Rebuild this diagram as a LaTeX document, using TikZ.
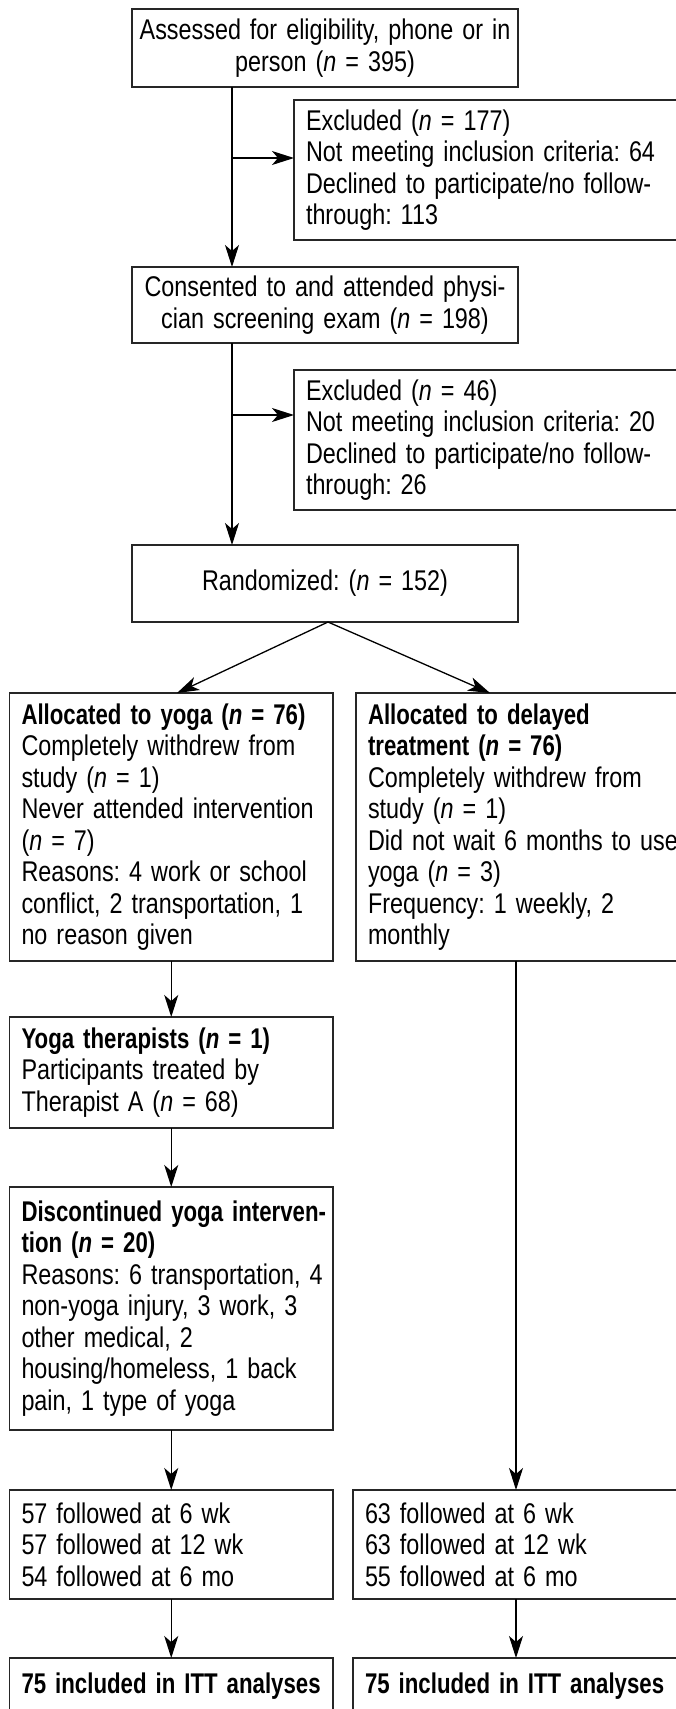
\documentclass[tikz,border=0pt]{standalone}
\usepackage{fontspec}
\setmainfont{Liberation Sans}[FakeStretch=0.82, BoldFeatures={FakeStretch=0.78}, BoldItalicFeatures={FakeStretch=0.78}]
\usetikzlibrary{arrows.meta}
\newcommand{\sps}{\spaceskip=9pt plus 1pt minus 1pt\xspaceskip=9pt plus 1pt minus 1pt\relax}
\newcommand{\ml}[1]{\mbox{\sps #1}}
\newcommand{\cl}[1]{\makebox[\linewidth][c]{\sps #1}}
\newcommand{\bxfont}{\fontsize{28.5}{31.5}\selectfont\frenchspacing}
\begin{document}
\frenchspacing
\begin{tikzpicture}[x=1pt,y=-1pt,
  box/.style={draw=black!85, line width=1.3pt, inner xsep=12pt, inner ysep=0pt,
    outer sep=0pt, anchor=north west, font=\bxfont},
  lbox/.style={box, align=left},
  cbox/.style={box, align=center},
  arr/.style={line width=1.3pt, -{Stealth[length=22pt,width=14pt,inset=6pt]}}]
\useasboundingbox (0,0) rectangle (676,1709);
\clip (0,0) rectangle (676,1709);
\fill[white] (0,0) rectangle (676,1709);

\node[cbox, text width=362pt, minimum height=78pt] (assess) at (132,9)
  {\cl{Assessed for eligibility, phone or in}\\ \cl{person (\textit{n} = 395)}};
\node[lbox, text width=402pt, minimum height=140pt] (excl1) at (294,100)
  {\ml{Excluded (\textit{n} = 177)}\\ \ml{Not meeting inclusion criteria: 64}\\ \ml{Declined to participate/no follow-}\\ \ml{through: 113}};
\node[cbox, text width=362pt, minimum height=76pt] (consent) at (132,267)
  {\cl{Consented to and attended physi-}\\ \cl{cian screening exam (\textit{n} = 198)}};
\node[lbox, text width=402pt, minimum height=140pt] (excl2) at (294,370)
  {\ml{Excluded (\textit{n} = 46)}\\ \ml{Not meeting inclusion criteria: 20}\\ \ml{Declined to participate/no follow-}\\ \ml{through: 26}};
\node[cbox, text width=362pt, minimum height=77pt] (rand) at (132,545)
  {\cl{Randomized: (\textit{n} = 152)}};

\node[lbox, text width=299.5pt, minimum height=268pt] (yoga) at (9.5,693)
  {\ml{\textbf{Allocated to yoga (\textit{n} = 76)}}\\ \ml{Completely withdrew from}\\ \ml{study (\textit{n} = 1)}\\ \ml{Never attended intervention}\\ \ml{(\textit{n} = 7)}\\ \ml{Reasons: 4 work or school}\\ \ml{conflict, 2 transportation, 1}\\ \ml{no reason given}};
\node[lbox, text width=340pt, minimum height=268pt] (delay) at (356,693)
  {\ml{\textbf{Allocated to delayed}}\\ \ml{\textbf{treatment (\textit{n} = 76)}}\\ \ml{Completely withdrew from}\\ \ml{study (\textit{n} = 1)}\\ \ml{Did not wait 6 months to use}\\ \ml{yoga (\textit{n} = 3)}\\ \ml{Frequency: 1 weekly, 2}\\ \ml{monthly}};

\node[lbox, text width=299.5pt, minimum height=111pt] (ther) at (9.5,1017)
  {\ml{\textbf{Yoga therapists (\textit{n} = 1)}}\\ \ml{Participants treated by}\\ \ml{Therapist A (\textit{n} = 68)}};
\node[lbox, text width=299.5pt, minimum height=243pt] (disc) at (9.5,1187)
  {\ml{\textbf{Discontinued yoga interven-}}\\ \ml{\textbf{tion (\textit{n} = 20)}}\\ \ml{Reasons: 6 transportation, 4}\\ \ml{non-yoga injury, 3 work, 3}\\ \ml{other medical, 2}\\ \ml{housing/homeless, 1 back}\\ \ml{pain, 1 type of yoga}};

\node[lbox, text width=299.5pt, minimum height=109pt] (fol1) at (9.5,1490)
  {\ml{57 followed at 6 wk}\\ \ml{57 followed at 12 wk}\\ \ml{54 followed at 6 mo}};
\node[lbox, text width=343pt, minimum height=109pt] (fol2) at (353,1490)
  {\ml{63 followed at 6 wk}\\ \ml{63 followed at 12 wk}\\ \ml{55 followed at 6 mo}};

\node[lbox, text width=299.5pt, text height=35pt, text depth=47pt] (itt1) at (9.5,1658)
  {\ml{\textbf{75 included in ITT analyses}}};
\node[lbox, text width=343pt, text height=35pt, text depth=47pt] (itt2) at (353,1658)
  {\ml{\textbf{75 included in ITT analyses}}};

\coordinate (c1) at (232,0);
\coordinate (c3) at (516,0);
\coordinate (b1) at (0,158);
\coordinate (b2) at (0,415);

\draw[arr] (assess.south -| c1) -- (consent.north -| c1);
\draw[arr] (c1 |- b1) -- (excl1.west |- b1);
\draw[arr] (consent.south -| c1) -- (rand.north -| c1);
\draw[arr] (c1 |- b2) -- (excl2.west |- b2);

\draw[arr] ([xshift=3pt]rand.south) -- ([xshift=167.5pt]yoga.north west);
\draw[arr] ([xshift=3pt]rand.south) -- ([xshift=134pt]delay.north west);

\draw[arr] (yoga.south) -- (ther.north);
\draw[arr] (ther.south) -- (disc.north);
\draw[arr] (disc.south) -- (fol1.north);
\draw[arr] (fol1.south) -- (itt1.north);
\draw[arr] (delay.south -| c3) -- (fol2.north -| c3);
\draw[arr] (fol2.south -| c3) -- (itt2.north -| c3);
\end{tikzpicture}
\end{document}
